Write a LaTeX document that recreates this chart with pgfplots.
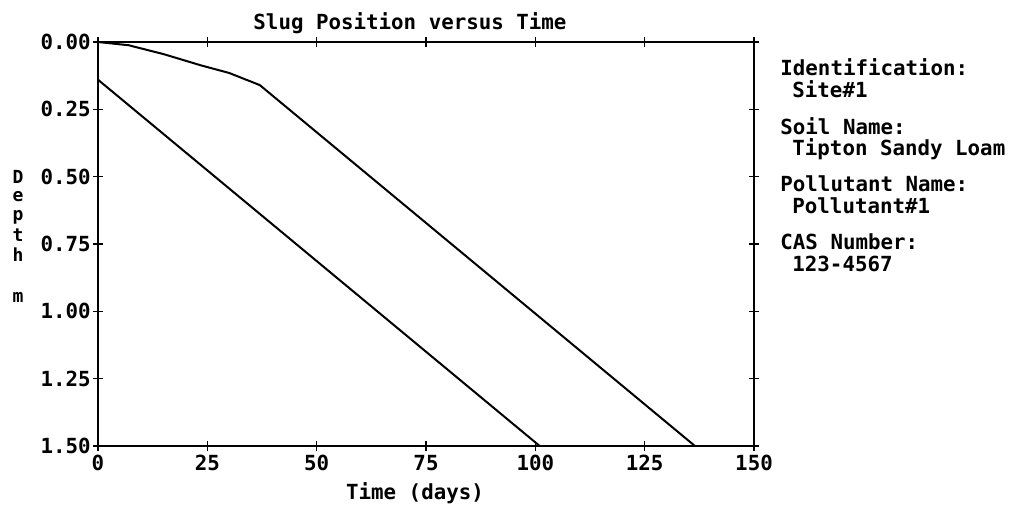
\documentclass[border=0pt]{standalone}
\usepackage{fontspec}
\setmainfont{DejaVu Sans Mono}
\usepackage{pgfplots}
\pgfplotsset{compat=1.18}
\begin{document}
\begin{tikzpicture}[font=\fontsize{10.4}{9.5}\selectfont\bfseries]
\useasboundingbox (0,0) rectangle (505pt,252.5pt);
\begin{axis}[
  at={(49pt,29.5pt)}, anchor=south west,
  scale only axis, width=328pt, height=202pt,
  xmin=0, xmax=150, ymin=0, ymax=1.5,
  y dir=reverse,
  axis line style={line width=1pt},
  xtick={0,25,50,75,100,125,150},
  ytick={0,0.25,0.5,0.75,1,1.25,1.5},
  yticklabel style={/pgf/number format/fixed, /pgf/number format/fixed zerofill, /pgf/number format/precision=2, inner sep=1pt},
  /pgf/number format/assume math mode=true,
  tick align=center,
  major tick length=5pt,
  tick style={line width=0.8pt, black},
  ticklabel style={font=\fontsize{10.4}{10}\selectfont\bfseries},
  xticklabel style={inner sep=2pt},
  xtick pos=both, ytick pos=both,
  clip=false,
]
\addplot[black, line width=1pt] coordinates {
(0,0) (7,0.012) (15,0.045) (23.6,0.087) (30,0.115) (37,0.16) (136.5,1.5)
};
\addplot[black, line width=1pt] coordinates {
(0,0.14) (101,1.5)
};
\end{axis}
\node at (205pt,241pt) {Slug Position versus Time};
\node at (207.5pt,6pt) {Time (days)};
\begin{scope}[font=\fontsize{9}{9}\selectfont\bfseries]
\node at (9pt,164pt) {D};
\node at (9pt,154pt) {e};
\node at (9pt,144pt) {p};
\node at (9pt,135pt) {t};
\node at (9pt,125pt) {h};
\node at (9pt,104pt) {m};
\end{scope}
\node[anchor=west, inner sep=0pt] at (390pt,219pt) {Identification:};
\node[anchor=west, inner sep=0pt] at (396pt,208pt) {Site\#1};
\node[anchor=west, inner sep=0pt] at (390pt,189.5pt) {Soil Name:};
\node[anchor=west, inner sep=0pt] at (396pt,178pt) {Tipton Sandy Loam};
\node[anchor=west, inner sep=0pt] at (390pt,160.5pt) {Pollutant Name:};
\node[anchor=west, inner sep=0pt] at (396pt,149.5pt) {Pollutant\#1};
\node[anchor=west, inner sep=0pt] at (390pt,131.5pt) {CAS Number:};
\node[anchor=west, inner sep=0pt] at (396pt,120.5pt) {123-4567};
\end{tikzpicture}
\end{document}
